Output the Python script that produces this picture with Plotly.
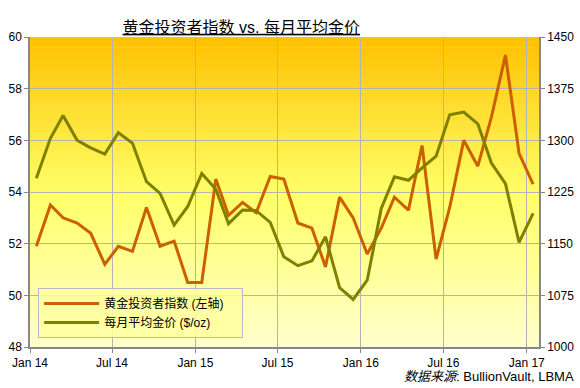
import plotly.graph_objects as go

months = [f"{y}-{m:02d}-15" for y in (2014, 2015, 2016) for m in range(1, 13)] + ["2017-01-15"]

investor_index = [51.9, 53.5, 53.0, 52.8, 52.4, 51.2, 51.9, 51.7, 53.4, 51.9, 52.1, 50.5,
                  50.5, 54.5, 53.1, 53.6, 53.2, 54.6, 54.5, 52.8, 52.6, 51.1, 53.8, 53.0,
                  51.6, 52.6, 53.8, 53.3, 55.8, 51.4, 53.4, 56.0, 55.0, 56.9, 59.3, 55.5,
                  54.3]
gold_price = [1245, 1303, 1336, 1300, 1289, 1280, 1311, 1296, 1240, 1223, 1177, 1204,
              1252, 1229, 1179, 1199, 1198, 1181, 1131, 1118, 1125, 1160, 1086, 1069,
              1097, 1201, 1247, 1242, 1260, 1277, 1337, 1341, 1324, 1267, 1237, 1152,
              1194]

tick_dates = ["2014-01-01", "2014-07-01", "2015-01-01", "2015-07-01",
              "2016-01-01", "2016-07-01", "2017-01-01"]
tick_labels = ["Jan 14", "Jul 14", "Jan 15", "Jul 15", "Jan 16", "Jul 16", "Jan 17"]

name_idx = "黄金投资者指数 (左轴)"
name_gold = "每月平均金价 ($/oz)"
title_text = "<u>黄金投资者指数 vs. 每月平均金价</u>"
source_text = "<i>数据来源</i>: BullionVault, LBMA"

FONT = "Liberation Sans, Arial, Noto Sans CJK SC, sans-serif"
PAD = "\u00a0" * 4

fig = go.Figure()
fig.add_trace(go.Scatter(x=months, y=gold_price, name=name_gold + PAD, mode="lines",
                         line=dict(color="#7F7F00", width=3), yaxis="y2"))
fig.add_trace(go.Scatter(x=months, y=investor_index, name=name_idx + PAD, mode="lines",
                         line=dict(color="#CC5F00", width=3)))

# gradient background as stacked bands
def lerp(c1, c2, t):
    return tuple(round(a + (b - a) * t) for a, b in zip(c1, c2))

stops = [(0.0, (255, 192, 0)), (0.5, (255, 255, 102)), (1.0, (255, 255, 204))]
n = 120
shapes = []
for i in range(n):
    t = (i + 0.5) / n  # from top
    for (p0, c0), (p1, c1) in zip(stops[:-1], stops[1:]):
        if p0 <= t <= p1:
            col = lerp(c0, c1, (t - p0) / (p1 - p0))
            break
    shapes.append(dict(type="rect", xref="x domain", yref="y domain",
                       x0=0, x1=1, y0=1 - (i + 1.2) / n, y1=1 - i / n,
                       fillcolor="rgb(%d,%d,%d)" % col, line=dict(width=0),
                       layer="below"))

axis_common = dict(showline=True, linecolor="#888888", linewidth=1.5,
                   ticks="outside", ticklen=4, tickcolor="#888888",
                   tickfont=dict(size=12), zeroline=False, automargin=False)

fig.update_layout(
    width=580, height=388,
    margin=dict(l=30, r=41, t=37, b=41, autoexpand=False),
    paper_bgcolor="white", plot_bgcolor="rgba(0,0,0,0)",
    font=dict(family=FONT, size=12, color="black"),
    shapes=shapes,
    title=dict(text=title_text, x=0.416, xanchor="center", y=0.93, yanchor="middle",
               font=dict(family="Liberation Sans, Noto Sans CJK SC, sans-serif", size=16, color="black")),
    xaxis=dict(type="date", range=["2014-01-01", "2017-01-28"],
               tickvals=tick_dates, ticktext=tick_labels,
               showgrid=True, gridcolor="#B4B4B4", gridwidth=1, **axis_common),
    yaxis=dict(range=[48, 60], dtick=2, tick0=48,
               showgrid=True, gridcolor="#B4B4B4", gridwidth=1, **axis_common),
    yaxis2=dict(range=[1000, 1450], dtick=75, tick0=1000, overlaying="y", side="right",
                showgrid=False, **axis_common),
    legend=dict(x=0.016, y=0.19, xanchor="left", yanchor="top",
                bgcolor="rgba(255,255,160,0.85)", bordercolor="#B8B8C8", borderwidth=1,
                font=dict(size=12), itemwidth=55, traceorder="reversed"),
    showlegend=True,
    annotations=[dict(text=source_text, xref="paper", yref="paper", x=1.073, y=-0.094,
                      xanchor="right", yanchor="middle", showarrow=False,
                      font=dict(size=13, color="black"))],
)

fig.write_html("out.html", config={"displayModeBar": False},
               post_script="document.body.style.margin='0';document.body.style.padding='0';")
